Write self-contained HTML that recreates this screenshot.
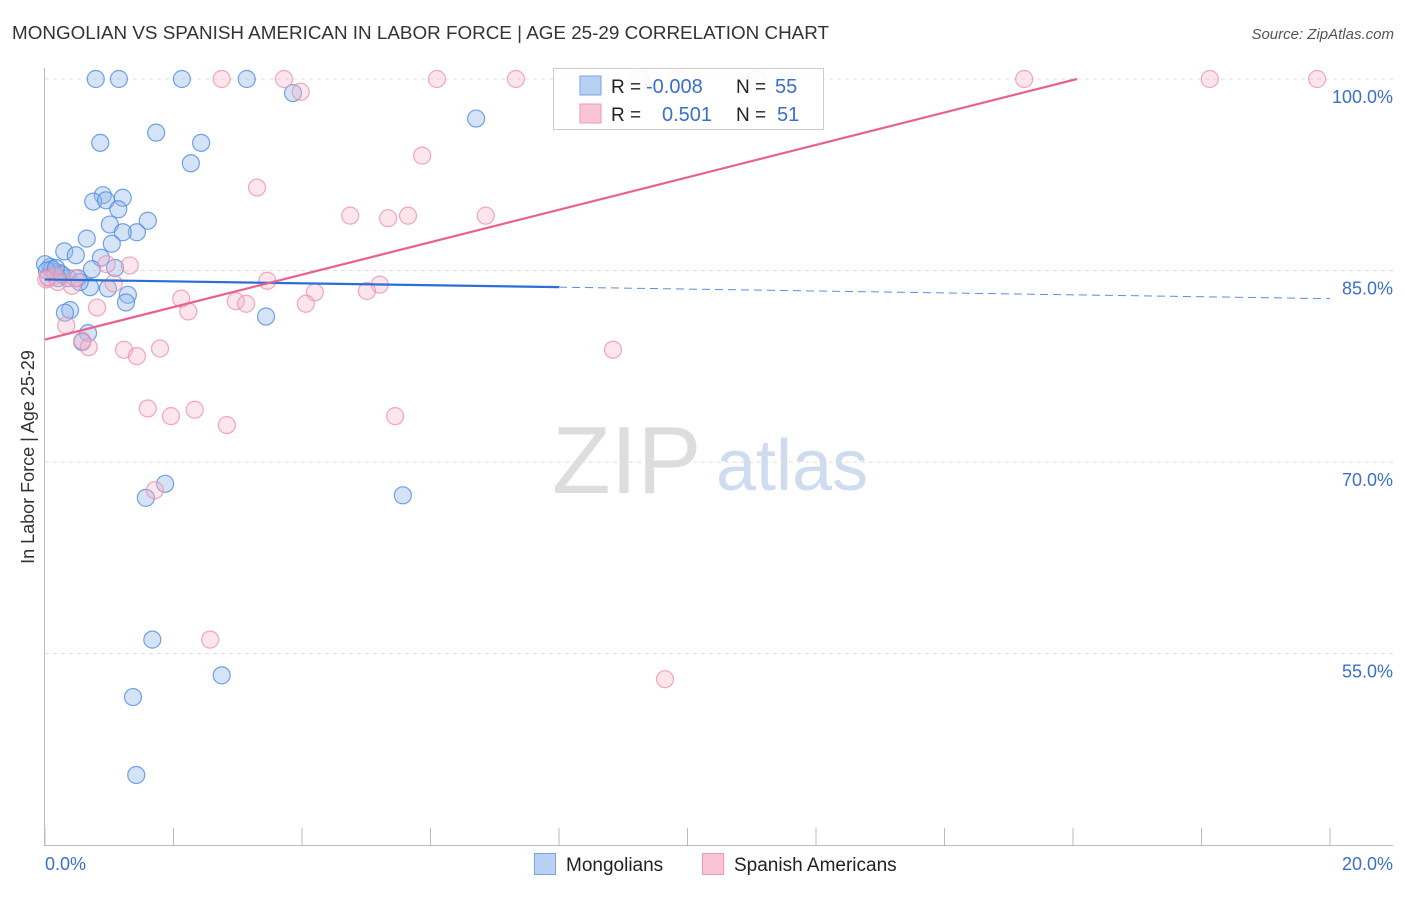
<!DOCTYPE html>
<html><head><meta charset="utf-8"><style>
body{margin:0;background:#fff;font-family:"Liberation Sans",sans-serif}
svg text{font-family:"Liberation Sans",sans-serif}
</style></head><body>
<svg width="1406" height="892" viewBox="0 0 1406 892">
<text x="12" y="39" font-size="18.5" fill="#333" textLength="817" lengthAdjust="spacingAndGlyphs">MONGOLIAN VS SPANISH AMERICAN IN LABOR FORCE | AGE 25-29 CORRELATION CHART</text>
<text x="1394" y="39" font-size="15" fill="#555" font-style="italic" text-anchor="end">Source: ZipAtlas.com</text>
<g>
<text x="552" y="493" font-size="96" fill="#ddd" font-family="Liberation Serif">ZIP</text>
<text x="716" y="490" font-size="72" fill="#cfdcf0">atlas</text>
</g>
<g id="grid"></g><g id="axes"></g><g id="pts"></g><g id="trend"></g>
<text transform="translate(34,457) rotate(-90)" font-size="18" fill="#333" text-anchor="middle">In Labor Force | Age 25-29</text>
<text x="45" y="870" font-size="18" fill="#3a6fd0">0.0%</text>
<text x="1393" y="870" font-size="18" fill="#3a6fd0" text-anchor="end">20.0%</text>
<g>
<rect x="553.5" y="68.5" width="270" height="61" fill="rgba(255,255,255,0.88)" stroke="#ccc"/>
<rect x="580" y="76" width="21" height="19" fill="#b8d0f4" stroke="#7aa3e0"/>
<rect x="580" y="104" width="21" height="19" fill="#f9c5d5" stroke="#eb9ab3"/>
<text x="611" y="93" font-size="19" fill="#222">R = </text><text x="646" y="93" font-size="20" fill="#3a6fd0">-0.008</text>
<text x="736" y="93" font-size="19" fill="#222">N = </text><text x="775" y="93" font-size="20" fill="#3a6fd0">55</text>
<text x="611" y="121" font-size="19" fill="#222">R = </text><text x="662" y="121" font-size="20" fill="#3a6fd0">0.501</text>
<text x="736" y="121" font-size="19" fill="#222">N = </text><text x="777" y="121" font-size="20" fill="#3a6fd0">51</text>
</g>
<g>
<rect x="534.5" y="853.5" width="21" height="21" fill="#b8d0f4" stroke="#7aa3e0"/>
<text x="566" y="871" font-size="19" fill="#222">Mongolians</text>
<rect x="702.5" y="853.5" width="21" height="21" fill="#f9c5d5" stroke="#eb9ab3"/>
<text x="734" y="871" font-size="19" fill="#222">Spanish Americans</text>
</g>
</svg>
<script>
const yTicks=[100,85,70,55];
const yTickLabels=["100.0%","85.0%","70.0%","55.0%"];
const xTicks=[0,2,4,6,8,10,12,14,16,18,20];
const blueX=[0.79,1.15,2.13,3.14,3.86,6.71,1.73,0.86,2.43,2.27,0.90,0.75,1.21,0.95,1.14,1.60,1.01,1.43,1.21,0.65,1.04,0.30,0.48,0.87,1.09,0.73,0.08,0.16,0.23,0.05,0.36,0.51,0.70,0.98,1.29,1.26,0.39,0.31,3.44,0.67,0.58,1.87,1.57,5.57,1.67,2.75,1.37,1.42,0,0.11,0.20,0.26,0.03,0.17,0.54];
const blueY=[100,100,100,100,98.9,96.9,95.8,95.0,95.0,93.4,90.9,90.4,90.7,90.5,89.8,88.9,88.6,88.0,88.0,87.5,87.1,86.5,86.2,86.0,85.2,85.1,85.3,84.9,84.8,84.5,84.4,84.4,83.7,83.6,83.1,82.5,81.9,81.7,81.4,80.1,79.4,68.3,67.2,67.4,56.1,53.3,51.6,45.5,85.5,85.1,84.4,84.7,85.0,85.2,84.1];
const pinkX=[2.75,3.72,6.10,7.33,9.26,9.85,11.08,15.24,18.13,19.80,3.98,5.87,3.30,4.75,5.34,5.65,6.86,1.32,0.96,3.46,1.07,0.42,5.21,4.20,5.01,2.12,2.97,3.13,4.06,2.23,0.81,0.33,0.58,0.68,1.23,1.79,1.43,8.84,1.60,1.96,2.33,2.83,5.45,1.71,2.57,9.65,0.05,0.16,0.20,0.47,0.02];
const pinkY=[100,100,100,100,100,100,100,100,100,100,99.0,94.0,91.5,89.3,89.1,89.3,89.3,85.4,85.5,84.2,84.0,83.8,83.9,83.3,83.4,82.8,82.6,82.4,82.4,81.8,82.1,80.7,79.5,79.0,78.8,78.9,78.3,78.8,74.2,73.6,74.1,72.9,73.6,67.8,56.1,53.0,84.4,84.6,84.1,84.4,84.3];
const blueTrend=[84.3,82.8];
const pinkTrend=[79.6,1.27];
const NS='http://www.w3.org/2000/svg';
const sx=v=>45+v*64.25, sy=v=>79+(100-v)*12.77;
function mk(tag,attrs,parent){const e=document.createElementNS(NS,tag);for(const k in attrs)e.setAttribute(k,attrs[k]);parent.appendChild(e);return e;}
const grid=document.getElementById('grid'),axes=document.getElementById('axes'),pts=document.getElementById('pts'),tr=document.getElementById('trend');
yTicks.forEach((t,i)=>{
 const l=mk('line',{x1:45,x2:1393,y1:sy(t),y2:sy(t),stroke:'#ddd','stroke-dasharray':'4,4'},grid);
 
 
 const tx=mk('text',{x:1393,y:sy(t)+24,'font-size':18,fill:'#3a6fd0','text-anchor':'end'},grid);
 tx.textContent=yTickLabels[i];
 
 
});
let a=mk('line',{x1:44.5,x2:44.5,y1:68,y2:845,stroke:'#bbb'},axes);


a=mk('line',{x1:44,x2:1393,y1:845.5,y2:845.5,stroke:'#bbb'},axes);


xTicks.forEach(t=>{const l=mk('line',{x1:sx(t),x2:sx(t),y1:828,y2:845,stroke:'#bbb'},axes);
 
 });
blueX.forEach((x,i)=>{const c=mk('circle',{cx:sx(x),cy:sy(blueY[i]),r:8.5,fill:'rgba(150,185,235,0.4)',stroke:'rgba(80,140,225,0.8)','stroke-width':1.2},pts);
 
 });
pinkX.forEach((x,i)=>{const c=mk('circle',{cx:sx(x),cy:sy(pinkY[i]),r:8.5,fill:'rgba(248,180,200,0.35)',stroke:'rgba(235,140,170,0.75)','stroke-width':1.2},pts);
 
 });
const by=x=>blueTrend[0]+(blueTrend[1]-blueTrend[0])*x/20;
let l=mk('line',{x1:sx(0),y1:sy(by(0)),x2:sx(8),y2:sy(by(8)),stroke:'#2a6fd8','stroke-width':2.2},tr);


l=mk('line',{x1:sx(8),y1:sy(by(8)),x2:sx(20),y2:sy(by(20)),stroke:'#5b8fde','stroke-width':1,'stroke-dasharray':'8,5'},tr);


const xEnd=(100-pinkTrend[0])/pinkTrend[1];
l=mk('line',{x1:sx(0),y1:sy(pinkTrend[0]),x2:sx(xEnd),y2:sy(100),stroke:'#e8628e','stroke-width':2.2},tr);


</script>
</body></html>
